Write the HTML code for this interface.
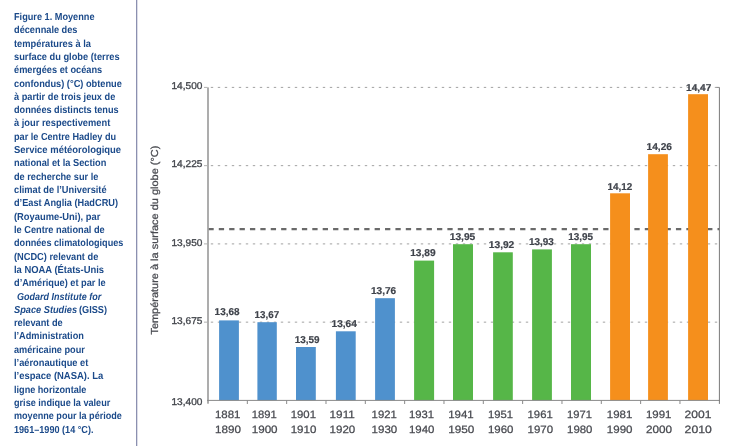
<!DOCTYPE html>
<html lang="fr">
<head>
<meta charset="utf-8">
<title>Figure 1 – Moyenne décennale des températures à la surface du globe</title>
<style>
html,body{margin:0;padding:0;background:#fff;}
body{width:729px;height:446px;overflow:hidden;}
svg{display:block;}
text{font-family:"Liberation Sans",sans-serif;text-rendering:geometricPrecision;}
.cap text{font-weight:bold;font-size:10.2px;fill:#1b4a8a;}
.ylab text{font-size:9.8px;fill:#44474d;stroke:#44474d;stroke-width:0.33px;text-anchor:end;}
.xlab text{font-size:10.6px;fill:#484a50;stroke:#484a50;stroke-width:0.25px;}
.val text{font-size:10px;font-weight:bold;fill:#3f434b;stroke:#3f434b;stroke-width:0.2px;}
.ttl{font-size:10.2px;fill:#484a50;stroke:#484a50;stroke-width:0.25px;}
</style>
</head>
<body>
<svg width="729" height="446" viewBox="0 0 729 446">
<rect x="0" y="0" width="729" height="446" fill="#ffffff"/>
<rect x="136" y="0" width="1.3" height="446" fill="#8b90b0"/>
<g class="cap">
<text x="14.0" y="20.00" textLength="80.5" lengthAdjust="spacingAndGlyphs">Figure 1. Moyenne</text>
<text x="14.0" y="33.31" textLength="63.5" lengthAdjust="spacingAndGlyphs">décennale des</text>
<text x="14.0" y="46.62" textLength="77.0" lengthAdjust="spacingAndGlyphs">températures à la</text>
<text x="14.0" y="59.93" textLength="105.6" lengthAdjust="spacingAndGlyphs">surface du globe (terres</text>
<text x="14.0" y="73.24" textLength="88.2" lengthAdjust="spacingAndGlyphs">émergées et océans</text>
<text x="14.0" y="86.55" textLength="107.9" lengthAdjust="spacingAndGlyphs">confondus) (°C) obtenue</text>
<text x="14.0" y="99.86" textLength="101.3" lengthAdjust="spacingAndGlyphs">à partir de trois jeux de</text>
<text x="14.0" y="113.17" textLength="104.6" lengthAdjust="spacingAndGlyphs">données distincts tenus</text>
<text x="14.0" y="126.48" textLength="96.3" lengthAdjust="spacingAndGlyphs">à jour respectivement</text>
<text x="14.0" y="139.79" textLength="102.1" lengthAdjust="spacingAndGlyphs">par le Centre Hadley du</text>
<text x="14.0" y="153.10" textLength="107.1" lengthAdjust="spacingAndGlyphs">Service météorologique</text>
<text x="14.0" y="166.41" textLength="92.4" lengthAdjust="spacingAndGlyphs">national et la Section</text>
<text x="14.0" y="179.72" textLength="84.3" lengthAdjust="spacingAndGlyphs">de recherche sur le</text>
<text x="14.0" y="193.03" textLength="92.6" lengthAdjust="spacingAndGlyphs">climat de l’Université</text>
<text x="14.0" y="206.34" textLength="104.0" lengthAdjust="spacingAndGlyphs">d’East Anglia (HadCRU)</text>
<text x="14.0" y="219.65" textLength="86.3" lengthAdjust="spacingAndGlyphs">(Royaume-Uni), par</text>
<text x="14.0" y="232.96" textLength="90.7" lengthAdjust="spacingAndGlyphs">le Centre national de</text>
<text x="14.0" y="246.27" textLength="109.4" lengthAdjust="spacingAndGlyphs">données climatologiques</text>
<text x="14.0" y="259.58" textLength="84.3" lengthAdjust="spacingAndGlyphs">(NCDC) relevant de</text>
<text x="14.0" y="272.89" textLength="90.1" lengthAdjust="spacingAndGlyphs">la NOAA (États-Unis</text>
<text x="14.0" y="286.20" textLength="91.7" lengthAdjust="spacingAndGlyphs">d’Amérique) et par le</text>
<text x="17" y="299.51" textLength="84.2" lengthAdjust="spacingAndGlyphs" font-style="italic">Godard Institute for</text>
<text x="14.0" y="312.82" textLength="63.1" lengthAdjust="spacingAndGlyphs" font-style="italic">Space Studies</text>
<text x="79" y="312.82" textLength="28.0" lengthAdjust="spacingAndGlyphs">(GISS)</text>
<text x="14.0" y="326.13" textLength="48.7" lengthAdjust="spacingAndGlyphs">relevant de</text>
<text x="14.0" y="339.44" textLength="69.9" lengthAdjust="spacingAndGlyphs">l’Administration</text>
<text x="14.0" y="352.75" textLength="70.8" lengthAdjust="spacingAndGlyphs">américaine pour</text>
<text x="14.0" y="366.06" textLength="74.3" lengthAdjust="spacingAndGlyphs">l’aéronautique et</text>
<text x="14.0" y="379.37" textLength="89.2" lengthAdjust="spacingAndGlyphs">l’espace (NASA). La</text>
<text x="14.0" y="392.68" textLength="72.4" lengthAdjust="spacingAndGlyphs">ligne horizontale</text>
<text x="14.0" y="405.99" textLength="96.3" lengthAdjust="spacingAndGlyphs">grise indique la valeur</text>
<text x="14.0" y="419.30" textLength="107.9" lengthAdjust="spacingAndGlyphs">moyenne pour la période</text>
<text x="14.0" y="432.61" textLength="79.5" lengthAdjust="spacingAndGlyphs">1961–1990 (14 °C).</text>
</g>
<g stroke="#a2a2a2" stroke-width="1" stroke-dasharray="2.4 4.6" fill="none">
<line x1="210.8" y1="87.40" x2="719.4" y2="87.40"/>
<line x1="210.8" y1="165.65" x2="719.4" y2="165.65"/>
<line x1="210.8" y1="243.90" x2="719.4" y2="243.90"/>
<line x1="210.8" y1="322.15" x2="719.4" y2="322.15"/>
</g>
<line x1="208.4" y1="229.20" x2="719.4" y2="229.20" stroke="#6a6a6a" stroke-width="2.3" stroke-dasharray="5.3 5.09"/>
<line x1="716.6" y1="87.40" x2="719.4" y2="87.40" stroke="#8a8a8a" stroke-width="1"/>
<rect x="219.1" y="320.4" width="19.8" height="80.0" fill="#4f91cd"/>
<rect x="257.4" y="322.2" width="19.4" height="78.2" fill="#4f91cd"/>
<rect x="296.0" y="347.0" width="19.8" height="53.4" fill="#4f91cd"/>
<rect x="335.9" y="331.3" width="19.8" height="69.1" fill="#4f91cd"/>
<rect x="375.1" y="298.2" width="19.8" height="102.2" fill="#4f91cd"/>
<rect x="414.1" y="260.6" width="20.0" height="139.8" fill="#56b648"/>
<rect x="453.0" y="244.2" width="20.0" height="156.2" fill="#56b648"/>
<rect x="493.1" y="252.3" width="19.7" height="148.1" fill="#56b648"/>
<rect x="532.1" y="249.4" width="19.8" height="151.0" fill="#56b648"/>
<rect x="571.0" y="244.2" width="20.0" height="156.2" fill="#56b648"/>
<rect x="610.1" y="193.3" width="19.9" height="207.1" fill="#f58f1c"/>
<rect x="648.1" y="154.2" width="19.8" height="246.2" fill="#f58f1c"/>
<rect x="688.1" y="94.2" width="19.9" height="306.2" fill="#f58f1c"/>
<rect x="207.2" y="87.4" width="1.6" height="316.3" fill="#999999"/>
<rect x="207.1" y="399.9" width="512.8" height="1" fill="#8a8a8a"/>
<rect x="718.9" y="87.4" width="1" height="316.5" fill="#7a7a7a"/>
<g stroke="#8a8a8a" stroke-width="1">
<line x1="247.33" y1="400.4" x2="247.33" y2="404.0"/>
<line x1="286.66" y1="400.4" x2="286.66" y2="404.0"/>
<line x1="325.99" y1="400.4" x2="325.99" y2="404.0"/>
<line x1="365.32" y1="400.4" x2="365.32" y2="404.0"/>
<line x1="404.65" y1="400.4" x2="404.65" y2="404.0"/>
<line x1="443.98" y1="400.4" x2="443.98" y2="404.0"/>
<line x1="483.31" y1="400.4" x2="483.31" y2="404.0"/>
<line x1="522.64" y1="400.4" x2="522.64" y2="404.0"/>
<line x1="561.97" y1="400.4" x2="561.97" y2="404.0"/>
<line x1="601.30" y1="400.4" x2="601.30" y2="404.0"/>
<line x1="640.63" y1="400.4" x2="640.63" y2="404.0"/>
<line x1="679.96" y1="400.4" x2="679.96" y2="404.0"/>
<line x1="204" y1="87.40" x2="207.5" y2="87.40" stroke="#b0b0b0"/>
<line x1="204" y1="165.65" x2="207.5" y2="165.65" stroke="#b0b0b0"/>
<line x1="204" y1="243.90" x2="207.5" y2="243.90" stroke="#b0b0b0"/>
<line x1="204" y1="322.15" x2="207.5" y2="322.15" stroke="#b0b0b0"/>
</g>
<g class="ylab">
<text x="202.4" y="89.40" textLength="30.9" lengthAdjust="spacingAndGlyphs">14,500</text>
<text x="202.4" y="167.40" textLength="30.9" lengthAdjust="spacingAndGlyphs">14,225</text>
<text x="202.4" y="245.50" textLength="30.9" lengthAdjust="spacingAndGlyphs">13,950</text>
<text x="202.4" y="324.20" textLength="30.9" lengthAdjust="spacingAndGlyphs">13,675</text>
<text x="202.4" y="404.60" textLength="30.9" lengthAdjust="spacingAndGlyphs">13,400</text>
</g>
<text class="ttl" transform="translate(158.4 334.6) rotate(-90)" textLength="189" lengthAdjust="spacingAndGlyphs">Température à la surface du globe (°C)</text>
<g class="val">
<text x="214.6" y="314.55" textLength="24.9" lengthAdjust="spacingAndGlyphs">13,68</text>
<text x="254.6" y="318.05" textLength="24.5" lengthAdjust="spacingAndGlyphs">13,67</text>
<text x="294.8" y="342.55" textLength="24.8" lengthAdjust="spacingAndGlyphs">13,59</text>
<text x="331.5" y="326.85" textLength="25.4" lengthAdjust="spacingAndGlyphs">13,64</text>
<text x="371.0" y="293.95" textLength="25.2" lengthAdjust="spacingAndGlyphs">13,76</text>
<text x="410.2" y="255.65" textLength="25.4" lengthAdjust="spacingAndGlyphs">13,89</text>
<text x="449.7" y="239.75" textLength="25.6" lengthAdjust="spacingAndGlyphs">13,95</text>
<text x="488.8" y="247.65" textLength="25.5" lengthAdjust="spacingAndGlyphs">13,92</text>
<text x="528.9" y="244.75" textLength="24.8" lengthAdjust="spacingAndGlyphs">13,93</text>
<text x="568.2" y="239.75" textLength="24.8" lengthAdjust="spacingAndGlyphs">13,95</text>
<text x="607.5" y="189.75" textLength="24.8" lengthAdjust="spacingAndGlyphs">14,12</text>
<text x="646.5" y="149.95" textLength="25.5" lengthAdjust="spacingAndGlyphs">14,26</text>
<text x="686.1" y="90.55" textLength="25.2" lengthAdjust="spacingAndGlyphs">14,47</text>
</g>
<g class="xlab">
<text x="215.0" y="418.4" textLength="25.5" lengthAdjust="spacingAndGlyphs">1881</text>
<text x="215.0" y="433.4" textLength="25.9" lengthAdjust="spacingAndGlyphs">1890</text>
<text x="251.7" y="418.4" textLength="25.0" lengthAdjust="spacingAndGlyphs">1891</text>
<text x="251.7" y="433.4" textLength="25.9" lengthAdjust="spacingAndGlyphs">1900</text>
<text x="290.7" y="418.4" textLength="25.3" lengthAdjust="spacingAndGlyphs">1901</text>
<text x="290.7" y="433.4" textLength="25.7" lengthAdjust="spacingAndGlyphs">1910</text>
<text x="329.6" y="418.4" textLength="25.2" lengthAdjust="spacingAndGlyphs">1911</text>
<text x="329.6" y="433.4" textLength="25.7" lengthAdjust="spacingAndGlyphs">1920</text>
<text x="371.6" y="418.4" textLength="25.2" lengthAdjust="spacingAndGlyphs">1921</text>
<text x="371.6" y="433.4" textLength="25.6" lengthAdjust="spacingAndGlyphs">1930</text>
<text x="409.0" y="418.4" textLength="25.1" lengthAdjust="spacingAndGlyphs">1931</text>
<text x="409.0" y="433.4" textLength="25.5" lengthAdjust="spacingAndGlyphs">1940</text>
<text x="448.2" y="418.4" textLength="25.5" lengthAdjust="spacingAndGlyphs">1941</text>
<text x="448.2" y="433.4" textLength="26.2" lengthAdjust="spacingAndGlyphs">1950</text>
<text x="488.0" y="418.4" textLength="25.0" lengthAdjust="spacingAndGlyphs">1951</text>
<text x="488.0" y="433.4" textLength="25.5" lengthAdjust="spacingAndGlyphs">1960</text>
<text x="527.6" y="418.4" textLength="25.1" lengthAdjust="spacingAndGlyphs">1961</text>
<text x="527.6" y="433.4" textLength="25.5" lengthAdjust="spacingAndGlyphs">1970</text>
<text x="567.1" y="418.4" textLength="24.9" lengthAdjust="spacingAndGlyphs">1971</text>
<text x="567.1" y="433.4" textLength="25.3" lengthAdjust="spacingAndGlyphs">1980</text>
<text x="606.8" y="418.4" textLength="25.5" lengthAdjust="spacingAndGlyphs">1981</text>
<text x="606.8" y="433.4" textLength="25.7" lengthAdjust="spacingAndGlyphs">1990</text>
<text x="645.9" y="418.4" textLength="25.5" lengthAdjust="spacingAndGlyphs">1991</text>
<text x="645.9" y="433.4" textLength="26.1" lengthAdjust="spacingAndGlyphs">2000</text>
<text x="684.6" y="418.4" textLength="26.9" lengthAdjust="spacingAndGlyphs">2001</text>
<text x="684.6" y="433.4" textLength="27.2" lengthAdjust="spacingAndGlyphs">2010</text>
</g>
</svg>
</body>
</html>
